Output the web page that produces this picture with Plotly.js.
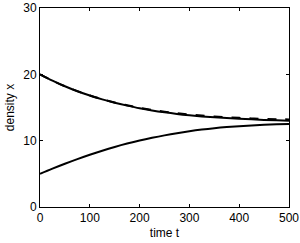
<!DOCTYPE html>
<html>
<head>
<meta charset="utf-8">
<script src="https://cdn.plot.ly/plotly-3.0.1.min.js"></script>
<style>html,body{margin:0;padding:0;background:#fff;}#chart{width:300px;height:243px;}</style>
</head>
<body>
<div id="chart"></div>
<script>
const timeT = [0,25,50,75,100,125,150,175,200,225,250,275,300,325,350,375,400,425,450,475,500];
const upperSolid = [20.0,19.05,18.2,17.45,16.8,16.22,15.72,15.28,14.88,14.55,14.27,14.03,13.83,13.66,13.52,13.4,13.3,13.21,13.13,13.06,13.0];
const upperDashed = [20.0,19.05,18.2,17.46,16.82,16.25,15.76,15.33,14.95,14.63,14.36,14.13,13.94,13.78,13.64,13.53,13.44,13.36,13.29,13.24,13.2];
const lowerSolid = [5.0,5.78,6.52,7.22,7.88,8.49,9.05,9.56,10.02,10.43,10.8,11.13,11.42,11.67,11.88,12.05,12.19,12.3,12.39,12.46,12.51];
const xTicks = [0,100,200,300,400,500];
const yTicks = [0,10,20,30];

const traces = [
  {x: timeT, y: upperDashed, mode:'lines', line:{color:'#000', width:2, dash:'dash', shape:'spline'}, hoverinfo:'skip'},
  {x: timeT, y: upperSolid, mode:'lines', line:{color:'#000', width:2, shape:'spline'}, hoverinfo:'skip'},
  {x: timeT, y: lowerSolid, mode:'lines', line:{color:'#000', width:2, shape:'spline'}, hoverinfo:'skip'}
];
const font = {family:'Liberation Sans, Arial, sans-serif', size:12, color:'#000'};
const layout = {
  width:300, height:243,
  margin:{l:40, r:11, t:8, b:36},
  paper_bgcolor:'#fff', plot_bgcolor:'#fff',
  showlegend:false,
  font: font,
  xaxis:{range:[0,500], tickvals:xTicks, ticktext:xTicks.map(String), ticks:'inside', ticklen:3, tickcolor:'#000',
    showline:true, linecolor:'#000', linewidth:1, mirror:'ticks', showgrid:false, zeroline:false,
    title:{text:'time t', font:font, standoff:4}, tickfont:font},
  yaxis:{range:[0,30], tickvals:yTicks, ticktext:yTicks.map(String), ticks:'inside', ticklen:3, tickcolor:'#000',
    showline:true, linecolor:'#000', linewidth:1, mirror:'ticks', showgrid:false, zeroline:false,
    title:{text:'density x', font:font, standoff:6}, tickfont:font}
};
Plotly.newPlot('chart', traces, layout, {staticPlot:true, displayModeBar:false});
</script>
</body>
</html>
